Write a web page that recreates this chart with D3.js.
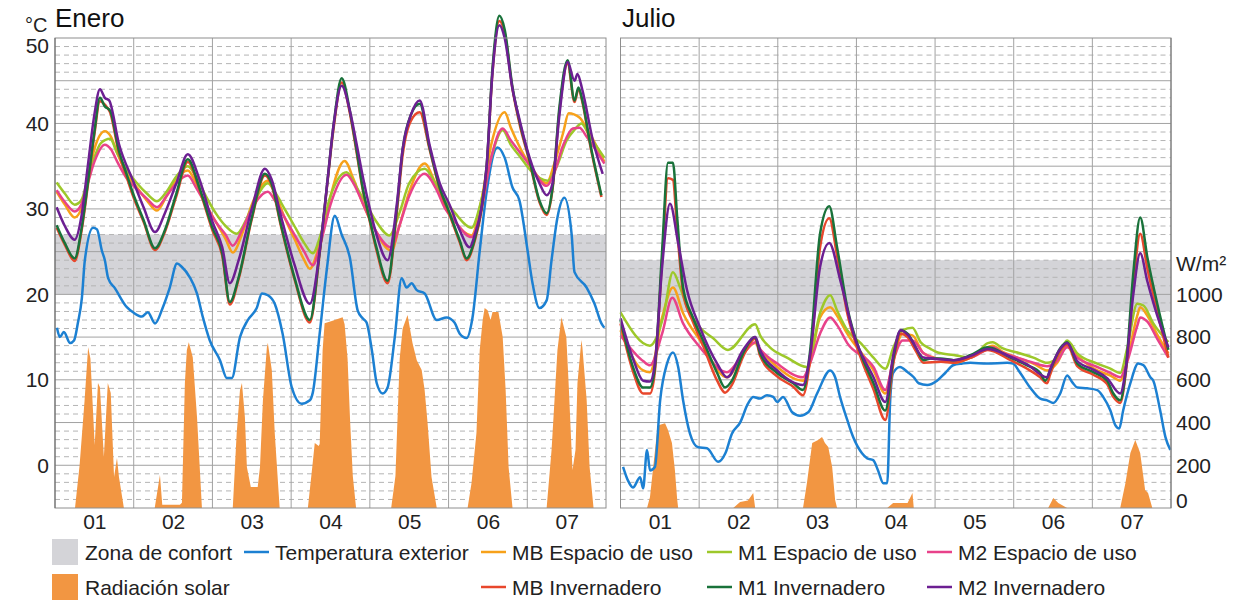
<!DOCTYPE html>
<html>
<head>
<meta charset="utf-8">
<script src="https://cdn.jsdelivr.net/npm/d3@7"></script>
<style>
body { margin: 0; background: #fff; }
svg { display: block; font-family: "Liberation Sans", Arial, sans-serif; }
</style>
</head>
<body>
<svg width="1252" height="603"></svg>
<script>
const svg = d3.select("svg");

// ---- data ----
const dayLabels = ["01", "02", "03", "04", "05", "06", "07"];
const tempTicks = [0, 10, 20, 30, 40, 50];
const radTicks = [0, 200, 400, 600, 800, 1000];
const confortEnero = [20, 27];
const confortJulio = [18, 24];

// [hora, °C]
const eneroExterior = [[0.6,16.1],[1.5,15.0],[2.7,15.6],[4.6,14.3],[5.8,14.6],[7.0,16.7],[8.2,19.6],[9.1,24.0],[11.6,27.8],[12.8,27.6],[14.3,25.1],[15.2,24.0],[16.2,21.9],[18.3,20.7],[21.9,18.5],[23.8,17.9],[26.5,17.4],[28.3,17.9],[30.5,16.6],[32.9,18.5],[35.0,20.8],[37.2,23.6],[38.7,23.2],[41.1,22.0],[43.3,20.1],[45.1,17.3],[47.2,14.6],[50.3,12.3],[52.4,10.2],[53.9,10.2],[56.4,15.0],[58.8,17.0],[61.5,18.4],[63.1,20.1],[64.9,19.9],[67.0,18.9],[69.4,15.4],[72.2,9.1],[75.2,7.2],[77.7,7.6],[78.6,8.5],[80.7,15.4],[82.9,23.0],[85.3,29.2],[87.4,27.0],[89.9,24.3],[92.3,18.1],[93.8,17.2],[95.0,16.7],[96.6,13.5],[98.1,9.6],[99.9,8.4],[101.4,9.1],[103.6,15.0],[105.7,21.9],[107.2,20.8],[108.7,21.3],[110.3,20.5],[112.7,20.1],[116.4,17.0],[119.4,17.3],[121.8,16.7],[123.4,15.4],[125.5,14.9],[127.3,17.3],[129.5,25.1],[131.6,32.0],[134.9,37.2],[137.1,36.0],[139.5,32.5],[141.6,31.0],[144.1,25.1],[145.6,21.3],[147.7,18.4],[149.9,19.3],[151.4,24.0],[153.2,29.0],[155.3,31.3],[157.5,27.1],[158.4,22.6],[162.1,20.8],[164.5,18.9],[166.6,16.6],[167.5,16.1]];
const eneroMBEspacio = [[0.5,32.0],[3,30.5],[6,29.0],[8,30],[10,33.5],[12,37],[15.2,39.1],[17,38.5],[19,36.5],[22,34],[25,32.5],[28,31],[31.1,29.8],[34,31.5],[37,33.5],[40.5,34.5],[43,33],[46,30.5],[49,28.5],[52,26.5],[54.2,24.9],[57,27],[60,30.5],[64.9,33.3],[67,32],[70,29],[73,26.5],[76,24],[77.7,23.0],[80,25],[83,30],[88.3,35.6],[91,33.5],[94,30.5],[97,28],[102.6,25.1],[105,28],[108,32],[112.7,35.3],[116,33],[119,30.5],[122,28.5],[127,26.9],[130,31],[133,37.5],[137.1,41.3],[139,39.5],[142,37],[145,35],[149.9,33.0],[152,35],[155,39],[156.6,41.2],[159.9,40.7],[162,39.5],[167.5,35.5]];
const eneroM1Espacio = [[0.5,33.1],[3,31.8],[6,30.5],[8,31],[10,33.5],[12,36],[14,37.7],[16.8,38.2],[19,36.5],[22,34.5],[25,33],[28,31.8],[31.1,30.9],[34,32],[37,33.8],[40.5,35.0],[43,33.8],[46,31.5],[49,29.5],[52,28],[55.4,27.1],[58,28.5],[61,31],[64.9,33.0],[67,32],[70,30],[73,28],[76,26],[78.6,24.8],[81,27],[84,31.5],[88.9,34.3],[92,32.5],[95,30.5],[98,28.5],[102,26.9],[105,29.5],[108,33],[112.7,34.7],[116,33],[119,31],[122,29.5],[127,27.8],[130,31],[133,36],[136.5,39.2],[139,37.5],[142,36],[145,34.5],[150.2,33.3],[153,35],[156,38],[158.5,39.3],[160.5,40.0],[163,38.5],[167.5,36.0]];
const eneroM2Espacio = [[0.5,32.2],[3,30.8],[6,29.7],[8,30.5],[10,33],[12,35.5],[15.2,37.5],[17,37],[19,35.5],[22,33.5],[25,32.3],[28,31.2],[31.1,30.2],[34,31.5],[37,33],[40.5,33.9],[43,32.5],[46,30.5],[49,28.5],[52,27],[54.2,25.7],[57,27.5],[60,30],[64.9,32.0],[67,31],[70,29],[73,27],[76,25],[78.6,23.4],[81,26],[84,30.5],[88.9,34.0],[91,33],[94,30.5],[97,28],[102.6,25.5],[105,28],[108,31.5],[112.7,34.1],[116,32.5],[119,30],[122,28.5],[127,26.7],[130,30],[133,36],[136.5,39.4],[139,38],[142,36.5],[145,35],[149.9,32.7],[152,34],[155,37.5],[157.9,39.4],[159.9,39.5],[162,38.5],[167.5,35.3]];
const eneroMBInvernadero = [[0.5,27.8],[3,25.8],[6,23.9],[8,27.2],[10,32.7],[12,38.7],[13.7,42.6],[15.2,42.2],[16.8,41.3],[19.5,36.5],[21.8,33.8],[23.8,31.5],[27,28.5],[30.5,25.2],[33.5,27.3],[37,31.5],[40.5,35.5],[44,32.3],[48,27.5],[51,24.5],[53.3,18.8],[56,21.8],[60,28.8],[64,33.9],[66,32.8],[69,27.8],[73,21.8],[77.7,16.7],[80.7,24.8],[83,32.8],[85,39.6],[87.4,44.8],[89.9,41.2],[92,36.5],[93.8,32.3],[96,28.5],[98,25.2],[101.4,21.3],[104.2,29.5],[106,36.3],[108.5,40.3],[111.2,41.3],[114.2,37],[117.3,32.3],[120.3,29.3],[123.4,26.1],[125.5,24.0],[128,26.3],[130,29.7],[131.6,34.7],[133.4,46],[135.5,52.0],[137.1,50.6],[139.5,44],[141.6,40],[144.7,35.5],[147.7,30.8],[149.9,29.3],[151.7,32.3],[153.8,41.5],[156.3,47.0],[158.4,42.5],[159.6,44],[160.8,42.5],[163,37.8],[166.6,31.4]];
const eneroM1Invernadero = [[0.5,28.1],[3,26],[6,24.2],[8,27.5],[10,33],[12,39],[13.7,43.0],[15.2,42.0],[16.8,41.5],[19.5,36.8],[21.8,34.1],[23.8,31.8],[27,28.7],[30.5,25.4],[33.5,27.5],[37,31.8],[40.5,35.8],[44,32.5],[48,27.8],[51,24.8],[53.3,19.1],[56,22],[60,29],[64,34.1],[66,33],[69,28],[73,22],[77.7,17.0],[80.7,25],[83,33],[85,40],[87.4,45.3],[89.9,41.5],[92,36.8],[93.8,32.5],[96,28.7],[98,25.5],[101.4,21.6],[104.2,30],[106,37],[108.5,41],[111.2,42.3],[114.2,37.2],[117.3,32.5],[120.3,29.5],[123.4,26.3],[125.5,24.2],[128,26.5],[130,30],[131.6,35],[133.4,46.5],[135.5,52.6],[137.1,51],[139.5,44.2],[141.6,40.3],[144.7,35.7],[147.7,31],[149.9,29.5],[151.7,32.5],[153.8,41.9],[156.3,47.4],[158.4,42.7],[159.6,44.2],[160.8,42.7],[163,38],[166.6,31.6]];
const eneroM2Invernadero = [[0.5,30.2],[3,28],[6,26.4],[8,29],[10,35],[12,41],[13.7,44.0],[15.2,43.0],[16.5,42.7],[19.5,37.6],[23.8,33.3],[27,30.2],[30.5,27.3],[33.5,29.5],[37,33],[40.5,36.4],[44,33.5],[48,28.5],[51,25.5],[53.3,21.3],[56,24],[60,30],[64,34.7],[66,33.5],[69,29],[73,23.5],[77.7,18.9],[80.7,25],[83,33],[85,40],[87.4,44.4],[89.9,41.5],[92,37.5],[94,33.5],[96,30],[98,27],[101.4,24.0],[104.2,30.5],[106,37],[108.5,41],[111.2,42.7],[114.2,37.5],[117.3,33],[120.3,30.5],[123.4,27.5],[126.4,25.5],[128,27],[130,30],[131.6,35],[133.4,46],[135.5,51.5],[137.1,50],[139.5,44],[141.6,40.5],[144.7,36],[147.7,33],[149.9,31.6],[151.7,33],[153.8,41],[156.3,47.2],[158.4,45.0],[159.3,45.8],[160.8,43.9],[164,38],[167,34.1]];
// [hora, W/m²]
const eneroRadiacion = [[0,0],[6.1,0],[7.5,200],[9.0,500],[10.1,753],[10.8,700],[12.1,295],[13.1,585],[13.7,565],[14.9,239],[16.1,585],[17.0,538],[18.0,145],[18.9,234],[19.5,145],[21.0,0],[30.4,0],[32.0,154],[32.7,15],[38.1,15],[38.7,25],[39.6,585],[40.2,739],[40.8,776],[42.0,706],[43.3,426],[44.8,0],[54.2,0],[55.4,351],[56.4,552],[57.0,585],[57.9,426],[58.5,192],[59.7,98],[61.8,98],[62.5,192],[63.4,505],[64.6,753],[64.9,772],[66.1,646],[67.0,351],[68.5,0],[77.1,0],[78.5,200],[79.2,304],[80.4,290],[80.7,300],[81.6,739],[82.2,865],[84.4,875],[87.7,893],[88.3,860],[89.2,700],[90.0,400],[90.8,150],[91.8,0],[102.5,0],[103.8,150],[105.1,700],[106.0,840],[107.5,903],[109.0,772],[110.3,692],[111.8,646],[112.7,552],[113.6,398],[114.8,145],[116.4,0],[125.8,0],[127.0,117],[128.5,351],[129.5,739],[130.4,880],[131.0,936],[131.9,926],[132.8,880],[133.4,917],[135.2,917],[136.5,800],[137.4,552],[138.3,192],[139.5,0],[149.9,0],[151.4,271],[152.3,505],[153.2,739],[154.4,893],[155.9,800],[156.6,585],[157.5,271],[157.8,178],[158.7,271],[159.3,585],[160.5,786],[160.8,753],[162.1,505],[163.0,192],[164.2,0],[168,0]];

const julioExterior = [[0.8,-0.2],[2.3,-1.8],[3.8,-2.6],[6.0,-1.4],[6.9,-2.7],[8.1,1.8],[9.0,-0.6],[10.5,-0.2],[12.1,7.6],[14.2,11.9],[16.0,13.2],[17.6,11.5],[19.1,7.6],[21.2,3.7],[23.7,2.1],[26.4,2.0],[29.8,0.4],[32.0,1.4],[34.0,3.7],[36.5,5.0],[38.9,7.2],[40.5,8.0],[42.5,7.8],[44.7,8.2],[46.6,8.0],[47.8,7.4],[49.6,8.0],[52.4,6.2],[54.8,5.8],[57.3,6.2],[60.0,8.4],[64.0,11.1],[65.5,10.3],[67.0,8.0],[69.2,5.3],[71.0,3.3],[73.7,1.4],[75.3,0.8],[77.1,0.6],[78.6,-0.6],[80.2,-2.1],[81.4,-2.1],[82.3,7.6],[83.2,10.8],[85.3,11.5],[87.6,10.9],[89.5,10.3],[91.0,9.6],[93.6,9.4],[96.6,9.9],[99.1,10.8],[101.5,11.7],[104.3,11.9],[106.7,12.0],[111.9,11.9],[118.0,12.0],[119.8,11.9],[122.0,10.8],[125.0,9.1],[128.1,7.8],[130.2,7.6],[132.1,7.3],[134.2,8.4],[136.3,10.5],[137.9,9.7],[139.4,9.1],[142.4,9.0],[145.5,8.8],[147.3,8.0],[149.5,6.4],[151.0,4.7],[152.2,4.3],[153.4,6.4],[155.6,9.6],[158.0,11.9],[159.6,11.7],[161.7,10.3],[162.6,9.9],[164.7,6.4],[166.3,3.3],[167.8,1.8]];
const julioMBEspacio = [[0,15.8],[6.9,11.1],[9,10.9],[12.7,17.3],[16,20.8],[19.1,17.8],[24.3,14.6],[32.5,10.3],[37.4,13],[41.1,14.3],[42.6,13.5],[47.8,11.5],[55.7,9.9],[57.9,12],[60.9,17.3],[64,18.5],[66.1,17.5],[69.2,15.4],[77.2,11.1],[80.8,8.4],[83.3,12.5],[86.1,15.4],[89.1,15.2],[92.5,13.1],[97.7,12.4],[101.7,12.0],[106.9,12.6],[112.1,13.8],[113.6,14.0],[116.5,13.3],[121.1,12.6],[126,11.9],[130.2,11.1],[133.3,12],[136.3,14.0],[139.4,12.8],[145.5,11.1],[149.5,10.5],[152.5,9.9],[154.7,12.5],[157.7,17.5],[158.6,18.5],[160.8,17.5],[163.8,15.3],[167.2,13.1]];
const julioM1Espacio = [[0,17.9],[9,14.0],[13,17.3],[16,22.6],[18.2,20.8],[20.3,18.5],[24.3,16.1],[28.2,14.9],[32.8,13.5],[41.1,16.5],[42.6,15.2],[45.6,13.8],[50.8,12.6],[56.9,11.5],[60.9,17.8],[64,19.9],[66.1,18.1],[69.2,15.8],[73.3,14.3],[77.2,12.6],[80.8,11.3],[83.3,13.8],[86.1,15.8],[89.1,16.1],[91.6,14.4],[94.7,13.6],[96.8,13.2],[101.7,12.9],[106.9,12.6],[112.1,14.3],[113.6,14.4],[116.5,13.7],[121.1,13.2],[126,12.6],[130.2,12.0],[133.3,12.6],[136.3,14.6],[139.4,13.1],[145.5,11.9],[149.5,11.3],[152.5,10.8],[154.7,13.8],[157.7,18.9],[159.6,18.7],[162.6,16.6],[167.2,14.4]];
const julioM2Espacio = [[0,15.2],[6.9,12.2],[9,11.7],[12.7,15.4],[15.8,19.6],[19.1,16.6],[24.3,13.8],[32.5,10.9],[37.4,13],[41.1,14.4],[42.6,13.6],[47.8,11.9],[55.7,10.3],[57.9,12],[60.9,15.4],[64,17.3],[66.1,16.4],[69.2,14.3],[77.2,11.5],[80.8,8.8],[83.3,12.3],[86.1,14.6],[89.1,14.6],[92.5,13.1],[97.7,12.4],[101.7,12.3],[106.9,12.6],[112.1,13.6],[113.6,13.8],[116.5,13.2],[121.1,12.6],[126,12.0],[130.2,11.6],[133.3,12.2],[136.3,13.8],[139.4,12.6],[145.5,11.5],[149.5,10.8],[152.5,10.3],[154.7,12.2],[157.7,16.3],[158.6,17.3],[160.8,16.8],[163.8,14.8],[167.2,12.6]];
const julioMBInvernadero = [[0,16.6],[3.8,11],[6.9,8.4],[9,8.4],[10.5,11],[12.7,24],[14.5,33.6],[16,33.4],[17.3,27.5],[19.1,20.2],[22.1,16.8],[25.2,14.0],[29.5,9.9],[31.9,8.5],[34,9.4],[37.4,12.7],[41.1,14.8],[42.6,12.8],[47.8,10.4],[52.7,9.2],[55.7,8.2],[57.9,12.5],[60.9,25.5],[63.7,28.9],[66.1,24.5],[69.2,17.8],[73.3,12.6],[77.2,8.9],[80.8,5.3],[83.3,12],[85.5,15.4],[87.6,15.0],[90.1,13.4],[92.5,12.0],[97.7,12.1],[101.7,12.0],[106.9,12.6],[112.1,13.5],[119,12.3],[124.1,11.3],[128.1,10.3],[130.2,9.6],[131.1,10.6],[134.2,13.4],[136.3,14.1],[139.4,11.6],[144.3,10.6],[148.5,9.5],[150.4,8.0],[152.5,7.3],[154.1,10.5],[156.5,21],[158.6,27.1],[160.8,23],[163.8,18],[167.2,12.6]];
const julioM1Invernadero = [[0,17.0],[3.8,11.5],[6.9,9.1],[9,9.1],[10.5,11.5],[12.7,25.1],[14.5,35.4],[16,35.4],[17.3,29.0],[19.1,20.8],[22.1,17.3],[25.2,14.6],[29.5,10.8],[31.9,9.1],[34,9.9],[37.4,13.1],[41.1,15.0],[42.6,13.1],[47.8,10.8],[52.7,9.6],[55.7,8.8],[57.9,13.5],[60.9,27.1],[63.7,30.3],[66.1,25.5],[69.2,18.5],[73.3,13.1],[77.2,9.6],[80.8,6.4],[83.3,12.6],[85.5,15.8],[87.6,15.4],[90.1,13.8],[92.5,12.3],[94.7,12.5],[97.7,12.5],[101.7,12.3],[106.9,12.9],[112.1,13.8],[119,12.6],[124.1,11.7],[128.1,10.8],[129.6,9.9],[131.1,11.1],[134.2,13.7],[136.3,14.4],[139.4,11.9],[144.3,10.9],[148.5,9.9],[150.4,8.4],[152.5,7.6],[154.1,10.8],[156.5,22.5],[158.6,29.0],[160.8,24.3],[163.8,18.9],[167.2,13.5]];
const julioM2Invernadero = [[0,17.2],[3.8,12.5],[6.9,9.9],[9,9.8],[10.5,12],[12.7,23.2],[15.1,30.6],[17.6,26.0],[20.3,20.5],[24.3,16.1],[29.5,11.9],[32.5,10.3],[37.4,13.5],[41.1,15.0],[42.6,13.5],[47.8,11.1],[55.7,9.4],[57.9,13],[60.9,23.2],[63.7,26.0],[67.1,21.6],[71.1,15.4],[77.2,10.3],[80.8,7.4],[83.3,13],[85.5,15.8],[87.6,15.3],[92.5,12.6],[97.7,12.4],[101.7,12.3],[106.9,12.8],[112.1,13.6],[119,12.7],[124.1,11.8],[130.2,10.3],[131.1,11.2],[134.2,13.6],[136.3,14.3],[139.4,12.2],[144.3,11.2],[148.5,10.2],[152.5,8.4],[154.1,11],[156.5,20],[158.6,24.8],[160.8,21.5],[163.8,17.5],[167.2,13.8]];
const julioRadiacion = [[0,0],[8.1,0],[9.0,51],[11.1,351],[11.8,388],[13.6,397],[14.5,365],[15.7,304],[16.6,178],[17.3,40],[17.6,0],[34.4,0],[36.5,28],[38.9,35],[40.5,70],[41.1,0],[55.7,0],[56.9,117],[58.5,304],[60.3,318],[61.5,332],[62.4,304],[63.4,285],[64.6,192],[65.5,37],[66.1,0],[81.4,0],[83.2,23],[87.6,23],[89.1,70],[89.5,0],[130.5,0],[132.1,47],[133.6,23],[136.3,0],[152.5,0],[154.1,117],[155.6,257],[157.1,318],[158.6,257],[160.1,84],[161,70],[162.3,0],[168,0]];

// ---- layout ----
const plotTop = 38, plotBottom = 508;
const y = d3.scaleLinear().domain([-5, 50]).range([plotBottom, plotTop]);
const yRad = d3.scaleLinear().domain([0, 1000]).range([plotBottom, y(20)]);

const colors = {
  ext: "#1c80d2", mbE: "#f7a11a", m1E: "#9dc82a", m2E: "#e8428a",
  mbI: "#e8472c", m1I: "#19723a", m2I: "#6c1f92",
  rad: "#f29642", confort: "#d4d4d8"
};

const panels = [
  { title: "Enero", x0: 55, x1: 606, confort: confortEnero, rad: eneroRadiacion,
    series: [[eneroExterior, colors.ext], [eneroMBEspacio, colors.mbE], [eneroM1Espacio, colors.m1E],
             [eneroM2Espacio, colors.m2E], [eneroMBInvernadero, colors.mbI],
             [eneroM1Invernadero, colors.m1I], [eneroM2Invernadero, colors.m2I]] },
  { title: "Julio", x0: 620.5, x1: 1171, confort: confortJulio, rad: julioRadiacion,
    series: [[julioExterior, colors.ext], [julioMBEspacio, colors.mbE], [julioM1Espacio, colors.m1E],
             [julioM2Espacio, colors.m2E], [julioMBInvernadero, colors.mbI],
             [julioM1Invernadero, colors.m1I], [julioM2Invernadero, colors.m2I]] }
];

panels.forEach((p, pi) => {
  const x = d3.scaleLinear().domain([0, 168]).range([p.x0, p.x1]);
  const g = svg.append("g");

  g.append("rect")
    .attr("x", p.x0).attr("y", plotTop)
    .attr("width", p.x1 - p.x0).attr("height", plotBottom - plotTop)
    .attr("fill", "#fff");

  // zona de confort
  g.append("rect")
    .attr("x", p.x0).attr("y", y(p.confort[1]))
    .attr("width", p.x1 - p.x0).attr("height", y(p.confort[0]) - y(p.confort[1]))
    .attr("fill", colors.confort);

  // grid
  g.selectAll(".hgrid")
    .data(d3.range(-4, 50))
    .enter().append("line")
    .attr("x1", p.x0).attr("x2", p.x1)
    .attr("y1", d => y(d)).attr("y2", d => y(d))
    .attr("stroke", d => d % 5 === 0 ? "#a2a2a2" : "#b4b4b4")
    .attr("stroke-width", 1)
    .attr("stroke-dasharray", d => d % 5 === 0 ? null : "5,4");

  g.selectAll(".vgrid")
    .data(d3.range(1, 7))
    .enter().append("line")
    .attr("x1", d => x(d * 24)).attr("x2", d => x(d * 24))
    .attr("y1", plotTop).attr("y2", plotBottom)
    .attr("stroke", "#a2a2a2");

  // radiación solar
  const area = d3.area()
    .x(d => x(d[0]))
    .y0(plotBottom)
    .y1(d => yRad(d[1]));
  g.append("path")
    .datum(p.rad)
    .attr("d", area)
    .attr("fill", colors.rad);

  // temperaturas
  const line = d3.line()
    .x(d => x(d[0]))
    .y(d => y(d[1]))
    .curve(d3.curveMonotoneX);
  p.series.forEach(([data, color]) => {
    g.append("path")
      .datum(data)
      .attr("d", line)
      .attr("fill", "none")
      .attr("stroke", color)
      .attr("stroke-width", 2.5)
      .attr("stroke-linejoin", "round");
  });

  g.append("rect")
    .attr("x", p.x0).attr("y", plotTop)
    .attr("width", p.x1 - p.x0).attr("height", plotBottom - plotTop)
    .attr("fill", "none").attr("stroke", "#8e8e8e");

  // eje x
  const xAxis = d3.axisBottom(x)
    .tickValues(d3.range(7).map(i => i * 24 + 12))
    .tickFormat((d, i) => dayLabels[i])
    .tickSize(0).tickPadding(6);
  const xg = g.append("g")
    .attr("transform", `translate(0,${plotBottom})`)
    .call(xAxis);
  xg.select(".domain").remove();
  xg.selectAll("text").attr("font-size", 21).attr("fill", "#222")
    .style("font-family", "'Liberation Sans', Arial, sans-serif");

  g.append("text")
    .attr("x", p.x0 + (pi === 0 ? 0 : 1.5)).attr("y", 27)
    .attr("font-size", 26).attr("fill", "#111")
    .text(p.title);

  if (pi === 0) {
    const yg = g.append("g")
      .attr("transform", `translate(${p.x0},0)`)
      .call(d3.axisLeft(y).tickValues(tempTicks).tickSize(0).tickPadding(6));
    yg.select(".domain").remove();
    yg.selectAll("text").attr("font-size", 21).attr("fill", "#222")
      .style("font-family", "'Liberation Sans', Arial, sans-serif");
    // the top label sits a little below the frame edge
    yg.selectAll(".tick").filter(d => d === 50).select("text").attr("y", 8);
    g.append("line")
      .attr("x1", p.x0).attr("x2", p.x0)
      .attr("y1", plotTop).attr("y2", plotBottom)
      .attr("stroke", "#666");
    g.append("text")
      .attr("x", 25).attr("y", 32)
      .attr("font-size", 20).attr("fill", "#222")
      .text("°C");
  } else {
    const rg = g.append("g")
      .attr("transform", `translate(${p.x1},0)`)
      .call(d3.axisRight(yRad).tickValues(radTicks).tickFormat(d3.format("d")).tickSize(0).tickPadding(5));
    rg.select(".domain").remove();
    rg.selectAll("text").attr("font-size", 21).attr("fill", "#222")
      .style("font-family", "'Liberation Sans', Arial, sans-serif");
    rg.selectAll(".tick").filter(d => d === 0).select("text").attr("y", -7);
    g.append("line")
      .attr("x1", p.x1).attr("x2", p.x1)
      .attr("y1", plotTop).attr("y2", plotBottom)
      .attr("stroke", "#777");
    g.append("text")
      .attr("x", p.x1 + 5).attr("y", 271)
      .attr("font-size", 21).attr("fill", "#222")
      .text("W/m²");
  }
});

// ---- leyenda ----
const legendItems = [
  { label: "Zona de confort", kind: "box", color: colors.confort, x: 52, row: 0 },
  { label: "Radiación solar", kind: "box", color: colors.rad, x: 52, row: 1 },
  { label: "Temperatura exterior", kind: "line", color: colors.ext, x: 244, row: 0 },
  { label: "MB Espacio de uso", kind: "line", color: colors.mbE, x: 481, row: 0 },
  { label: "MB Invernadero", kind: "line", color: colors.mbI, x: 481, row: 1 },
  { label: "M1 Espacio de uso", kind: "line", color: colors.m1E, x: 707, row: 0 },
  { label: "M1 Invernadero", kind: "line", color: colors.m1I, x: 707, row: 1 },
  { label: "M2 Espacio de uso", kind: "line", color: colors.m2E, x: 927, row: 0 },
  { label: "M2 Invernadero", kind: "line", color: colors.m2I, x: 927, row: 1 }
];
const rowY = [552, 587];

const legend = svg.append("g");
legendItems.forEach(it => {
  const cy = rowY[it.row];
  if (it.kind === "box") {
    legend.append("rect")
      .attr("x", it.x).attr("y", cy - 13)
      .attr("width", 26).attr("height", 26)
      .attr("fill", it.color);
    legend.append("text")
      .attr("x", it.x + 33).attr("y", cy + 7.5)
      .attr("font-size", 21).attr("fill", "#222")
      .text(it.label);
  } else {
    legend.append("line")
      .attr("x1", it.x).attr("x2", it.x + 25)
      .attr("y1", cy).attr("y2", cy)
      .attr("stroke", it.color).attr("stroke-width", 2.5);
    legend.append("text")
      .attr("x", it.x + 31).attr("y", cy + 7.5)
      .attr("font-size", 21).attr("fill", "#222")
      .text(it.label);
  }
});
</script>
</body>
</html>
